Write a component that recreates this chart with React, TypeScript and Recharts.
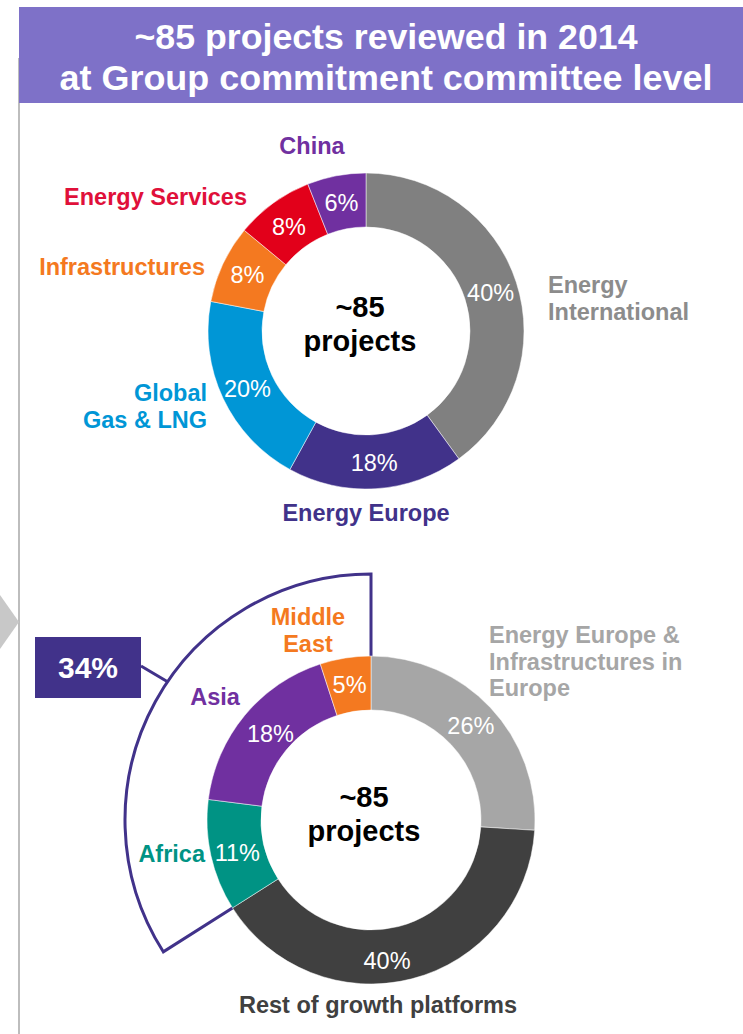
import { Cell, Pie, PieChart } from "recharts";

const topCategories = [
  "Energy International",
  "Energy Europe",
  "Global Gas & LNG",
  "Infrastructures",
  "Energy Services",
  "China",
];
const topShares = [40, 18, 20, 8, 8, 6];

const bottomCategories = [
  "Energy Europe & Infrastructures in Europe",
  "Rest of growth platforms",
  "Africa",
  "Asia",
  "Middle East",
];
const bottomShares = [26, 40, 11, 18, 5];
const growthRegions = ["Africa", "Asia", "Middle East"];

const titleLines = ["~85 projects reviewed in 2014", "at Group commitment committee level"];
const centerLines = ["~85", "projects"];

const topColors = ["#808080", "#41328a", "#0096d6", "#f47920", "#e2001a", "#7030a0"];
const bottomColors = ["#a6a6a6", "#404040", "#009384", "#7030a0", "#f47920"];

const FONT = '"Liberation Sans", Arial, sans-serif';
const INDIGO = "#41328a";
const RADIAN = Math.PI / 180;

// small hand nudges of the % labels off the ring middle, [dx, dy]
const topPctNudge = [[0, 2], [0, 1], [0, 2], [0, 0], [0, 2], [0, 1]];
const bottomPctNudge = [[0, 0], [-18, 8], [0, 3], [5, 1], [0, 0]];

// where each outside label sits (x, first baseline, anchor, lines, colour)
const topLabelLayout = [
  { x: 548, y: 293, anchor: "start", lines: ["Energy", "International"], color: "#8c8c8c" },
  { x: 366, y: 521, anchor: "middle", lines: ["Energy Europe"], color: INDIGO },
  { x: 207, y: 401, anchor: "end", lines: ["Global", "Gas & LNG"], color: "#0096d6" },
  { x: 205, y: 275, anchor: "end", lines: ["Infrastructures"], color: "#f47920" },
  { x: 247, y: 205, anchor: "end", lines: ["Energy Services"], color: "#e0103a" },
  { x: 312, y: 154, anchor: "middle", lines: ["China"], color: "#7030a0" },
];
const bottomLabelLayout = [
  { x: 489, y: 643, anchor: "start", lines: ["Energy Europe &", "Infrastructures in", "Europe"], color: "#a6a6a6" },
  { x: 378, y: 1013, anchor: "middle", lines: ["Rest of growth platforms"], color: "#404040" },
  { x: 205, y: 862, anchor: "end", lines: ["Africa"], color: "#009384" },
  { x: 215, y: 705, anchor: "middle", lines: ["Asia"], color: "#7030a0" },
  { x: 308, y: 625, anchor: "middle", lines: ["Middle", "East"], color: "#f47920" },
];

const topData = topCategories.map((name, i) => ({ name, value: topShares[i] }));
const bottomData = bottomCategories.map((name, i) => ({ name, value: bottomShares[i] }));
const growthShare = bottomData
  .filter((d) => growthRegions.includes(d.name))
  .reduce((s, d) => s + d.value, 0);
const bracketData = [
  { name: "other", value: 100 - growthShare },
  { name: "growth", value: growthShare },
];

const pctLabel = (nudge: number[][]) => (props: any) => {
  const { cx, cy, midAngle, innerRadius, outerRadius, value, index } = props;
  const r = (innerRadius + outerRadius) / 2;
  const [dx, dy] = nudge[index] || [0, 0];
  const x = cx + r * Math.cos(-midAngle * RADIAN) + dx;
  const y = cy + r * Math.sin(-midAngle * RADIAN) + dy;
  return (
    <text
      x={x}
      y={y}
      fill="#ffffff"
      textAnchor="middle"
      dominantBaseline="central"
      style={{ fontFamily: FONT, fontSize: 23.5 }}
    >
      {`${value}%`}
    </text>
  );
};

function OutsideLabels({ layout }: { layout: typeof topLabelLayout }) {
  return (
    <>
      {layout.map((l) => (
        <text
          key={l.lines.join(" ")}
          x={l.x}
          y={l.y}
          fill={l.color}
          textAnchor={l.anchor as any}
          style={{ fontFamily: FONT, fontSize: 23.5, fontWeight: 700 }}
        >
          {l.lines.map((line, i) => (
            <tspan key={line} x={l.x} dy={i === 0 ? 0 : 26.5}>
              {line}
            </tspan>
          ))}
        </text>
      ))}
    </>
  );
}

function CenterText({ x, y }: { x: number; y: number }) {
  return (
    <text
      x={x}
      y={y}
      fill="#000000"
      textAnchor="middle"
      style={{ fontFamily: FONT, fontSize: 29, fontWeight: 700 }}
    >
      <tspan x={x}>{centerLines[0]}</tspan>
      <tspan x={x} dy={34}>
        {centerLines[1]}
      </tspan>
    </text>
  );
}

export default function App() {
  return (
    <div style={{ position: "absolute", left: 0, top: 0, width: 743, height: 1034, background: "#fff" }}>
      <PieChart width={743} height={1034} margin={{ top: 0, right: 0, bottom: 0, left: 0 }}>
        <Pie
          data={bracketData}
          dataKey="value"
          cx={371}
          cy={820}
          innerRadius={159}
          outerRadius={246}
          startAngle={90}
          endAngle={-270}
          isAnimationActive={false}
        >
          <Cell fill="none" stroke="none" />
          <Cell fill="#ffffff" stroke={INDIGO} strokeWidth={3} />
        </Pie>
        <Pie
          data={bottomData}
          dataKey="value"
          cx={371}
          cy={820}
          innerRadius={110}
          outerRadius={164}
          startAngle={90}
          endAngle={-270}
          stroke="#ffffff"
          strokeWidth={0.5}
          label={pctLabel(bottomPctNudge)}
          labelLine={false}
          isAnimationActive={false}
        >
          {bottomData.map((d, i) => (
            <Cell key={d.name} fill={bottomColors[i]} />
          ))}
        </Pie>
        <Pie
          data={topData}
          dataKey="value"
          cx={366}
          cy={331}
          innerRadius={104}
          outerRadius={158}
          startAngle={90}
          endAngle={-270}
          stroke="#ffffff"
          strokeWidth={0.5}
          label={pctLabel(topPctNudge)}
          labelLine={false}
          isAnimationActive={false}
        >
          {topData.map((d, i) => (
            <Cell key={d.name} fill={topColors[i]} />
          ))}
        </Pie>
      </PieChart>

      <svg
        width={743}
        height={1034}
        style={{ position: "absolute", left: 0, top: 0, pointerEvents: "none" }}
      >
        <rect x={18} y={58} width={2} height={976} fill="#bdbdbd" />
        <rect x={19} y={7} width={724} height={96} fill="#7e71c8" />
        <text
          x={386}
          y={49}
          fill="#ffffff"
          textAnchor="middle"
          textLength={503}
          lengthAdjust="spacingAndGlyphs"
          style={{ fontFamily: FONT, fontSize: 35, fontWeight: 700 }}
        >
          {titleLines[0]}
        </text>
        <text
          x={386}
          y={90}
          fill="#ffffff"
          textAnchor="middle"
          textLength={653}
          lengthAdjust="spacingAndGlyphs"
          style={{ fontFamily: FONT, fontSize: 35, fontWeight: 700 }}
        >
          {titleLines[1]}
        </text>

        <polygon points="0,595 19,622 0,649" fill="#c8c8c8" />

        <line x1={141} y1={666} x2={168} y2={682} stroke={INDIGO} strokeWidth={3} />
        <rect x={35} y={637} width={106} height={61} fill={INDIGO} />
        <text
          x={88}
          y={678}
          fill="#ffffff"
          textAnchor="middle"
          style={{ fontFamily: FONT, fontSize: 30, fontWeight: 700 }}
        >
          {`${growthShare}%`}
        </text>

        <OutsideLabels layout={topLabelLayout} />
        <OutsideLabels layout={bottomLabelLayout} />
        <CenterText x={360} y={317} />
        <CenterText x={364} y={807} />
      </svg>
    </div>
  );
}
